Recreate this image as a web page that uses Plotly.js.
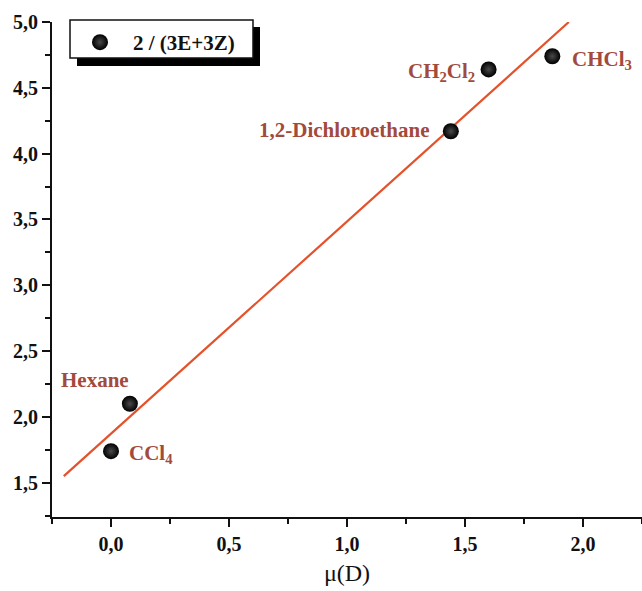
<!DOCTYPE html>
<html><head><meta charset="utf-8">
<script src="https://cdn.plot.ly/plotly-3.0.1.min.js"></script>
<style>html,body{margin:0;padding:0;background:#fff}</style>
</head><body><div id="chart" style="width:642px;height:591px"></div>
<script>
const solvents = ['CCl<sub>4</sub>', 'Hexane', '1,2-Dichloroethane', 'CH<sub>2</sub>Cl<sub>2</sub>', 'CHCl<sub>3</sub>'];
const dipole = [0.0, 0.08, 1.44, 1.60, 1.87];
const ratio = [1.74, 2.10, 4.17, 4.64, 4.74];
const fitX = [-0.2, 1.94];
const fitY = [1.55, 5.0];
const seriesName = '2 / (3E+3Z)';

const labelColor = '#a24a3d';
const labelPos = [
  {xanchor:'left', xshift:16, yshift:-3},
  {xanchor:'center', xshift:-35, yshift:24},
  {xanchor:'right', xshift:-19, yshift:1},
  {xanchor:'right', xshift:-12, yshift:-3},
  {xanchor:'left', xshift:18, yshift:-4}
];
const annotations = solvents.map((s,i)=>Object.assign({
  x: dipole[i], y: ratio[i], xref:'x', yref:'y', text: s, showarrow:false,
  yanchor:'middle',
  font:{family:'Liberation Serif', size:21, color:labelColor, weight:'bold'}
}, labelPos[i]));

const data = [
  {x: fitX, y: fitY, mode:'lines', line:{color:'#e4522c', width:2.2}, showlegend:false, hoverinfo:'skip'},
  {x: dipole, y: ratio, mode:'markers', name: seriesName,
   marker:{size:16, color:'#000', gradient:{type:'radial', color:'#4a4a4a'}, line:{width:0}}}
];

const axisFont = {family:'Liberation Serif', size:20, color:'#111', weight:'bold'};
const layout = {
  width:642, height:591,
  margin:{l:52, r:0, t:22, b:74},
  paper_bgcolor:'#fff', plot_bgcolor:'#fff',
  separators: ',.',
  showlegend:true,
  xaxis:{range:[-0.25, 2.25], dtick:0.5, tick0:0, tickformat:'.1f',
    showgrid:false, zeroline:false, showline:true, linecolor:'#111', linewidth:2,
    ticks:'outside', ticklen:8, tickwidth:2, tickcolor:'#111', tickfont:axisFont,
    minor:{dtick:0.25, ticks:'outside', ticklen:5, tickwidth:2, tickcolor:'#111', showgrid:false},
    title:{text:'μ(D)', font:{family:'Liberation Serif', size:24, color:'#111'}, standoff:10}},
  yaxis:{range:[1.24, 5.0], dtick:0.5, tick0:0, tickformat:'.1f',
    showgrid:false, zeroline:false, showline:true, linecolor:'#111', linewidth:2,
    ticks:'outside', ticklen:8, tickwidth:2, tickcolor:'#111', tickfont:axisFont,
    minor:{dtick:0.25, ticks:'outside', ticklen:5, tickwidth:2, tickcolor:'#111', showgrid:false}},
  legend:{x:(67-52)/590, y:1 - (22-22)/495, xanchor:'left', yanchor:'top', itemwidth:56,
    bgcolor:'rgba(0,0,0,0)', borderwidth:0,
    font:{family:'Liberation Serif', size:21, color:'#111', weight:'bold'}},
  shapes:[
    {type:'rect', xref:'paper', yref:'paper', x0:(77-52)/590, x1:(260-52)/590, y0:1-(66-22)/495, y1:1-(27-22)/495,
     fillcolor:'#000', line:{width:0}, layer:'below'},
    {type:'rect', xref:'paper', yref:'paper', x0:(70-52)/590, x1:(253-52)/590, y0:1-(58-22)/495, y1:1-(20-22)/495,
     fillcolor:'#fff', line:{color:'#111', width:1.5}, layer:'below'}
  ],
  annotations: annotations
};
Plotly.newPlot('chart', data, layout, {displayModeBar:false, staticPlot:true});
</script></body></html>
